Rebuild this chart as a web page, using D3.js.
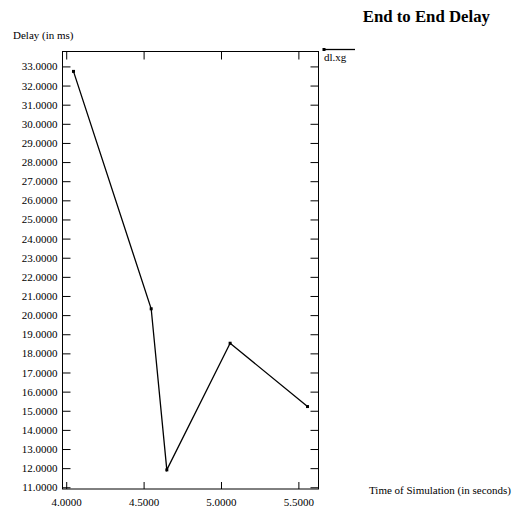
<!DOCTYPE html>
<html>
<head>
<meta charset="utf-8">
<script src="https://cdn.jsdelivr.net/npm/d3@7"></script>
<style>
  body { margin: 0; background: #fff; }
  text { font-family: "Liberation Serif", "DejaVu Serif", serif; fill: #000; }
</style>
</head>
<body>
<div id="chart"></div>
<script>
// ─── Data ───
const times  = [4.047, 4.549, 4.650, 5.059, 5.559];
const delays = [32.74, 20.33, 11.91, 18.53, 15.22];
const xTicks = [4.0, 4.5, 5.0, 5.5];
const yTicks = [11, 12, 13, 14, 15, 16, 17, 18, 19, 20, 21, 22, 23, 24, 25, 26, 27, 28, 29, 30, 31, 32, 33];
const seriesName = "dl.xg";

const width = 517, height = 510;
const plotL = 62.5, plotR = 318.5, plotT = 51.5, plotB = 489;

const svg = d3.select("#chart").append("svg")
  .attr("width", width).attr("height", height);

svg.append("rect").attr("width", width).attr("height", height).attr("fill", "#fff");

const x = d3.scaleLinear().domain([3.976, 5.630]).range([plotL, plotR]);
const y = d3.scaleLinear().domain([10.91, 33.78]).range([plotB, plotT]);
const fmt = d3.format(".4f");

// ─── Axes (ticks point inward) ───
function styleAxis(g) {
  g.select(".domain").remove();
  g.selectAll("line").attr("stroke", "#000").attr("stroke-width", 1);
  g.selectAll("text").attr("font-family", "Liberation Serif, serif").attr("font-size", 11);
}

svg.append("g").attr("transform", `translate(${plotL},0)`)
  .call(d3.axisLeft(y).tickValues(yTicks).tickSize(-8).tickPadding(5).tickFormat(fmt))
  .call(styleAxis);

svg.append("g").attr("transform", `translate(${plotR},0)`)
  .call(d3.axisRight(y).tickValues(yTicks).tickSize(-8).tickFormat(""))
  .call(styleAxis);

svg.append("g").attr("transform", `translate(0,${plotB})`)
  .call(d3.axisBottom(x).tickValues(xTicks).tickSize(-7).tickPadding(9).tickFormat(fmt))
  .call(styleAxis);

svg.append("g").attr("transform", `translate(0,${plotT})`)
  .call(d3.axisTop(x).tickValues(xTicks).tickSize(-8).tickFormat(""))
  .call(styleAxis);

// frame
svg.append("rect")
  .attr("x", plotL).attr("y", plotT)
  .attr("width", plotR - plotL).attr("height", plotB - plotT)
  .attr("fill", "none").attr("stroke", "#000").attr("stroke-width", 1);

// ─── Series ───
const pts = times.map((t, i) => ({ t, v: delays[i] }));

svg.append("path")
  .datum(pts)
  .attr("fill", "none")
  .attr("stroke", "#000")
  .attr("stroke-width", 1.3)
  .attr("d", d3.line().x(d => x(d.t)).y(d => y(d.v)));

svg.selectAll(".pt")
  .data(pts).enter().append("rect")
    .attr("class", "pt")
    .attr("x", d => x(d.t) - 1.5)
    .attr("y", d => y(d.v) - 1.5)
    .attr("width", 3).attr("height", 3)
    .attr("fill", "#000");

// ─── Legend ───
svg.append("line")
  .attr("x1", 323).attr("x2", 355).attr("y1", 49.5).attr("y2", 49.5)
  .attr("stroke", "#000").attr("stroke-width", 1.3);
svg.append("rect")
  .attr("x", 322.5).attr("y", 48).attr("width", 3).attr("height", 3).attr("fill", "#000");
svg.append("text")
  .attr("x", 324).attr("y", 60.5)
  .attr("font-size", 11)
  .text(seriesName);

// ─── Titles ───
svg.append("text")
  .attr("x", 490).attr("y", 22)
  .attr("text-anchor", "end")
  .attr("font-size", 16.8).attr("font-weight", "bold")
  .text("End to End Delay");

svg.append("text")
  .attr("x", 13).attr("y", 38.5)
  .attr("font-size", 11)
  .text("Delay (in ms)");

svg.append("text")
  .attr("x", 511).attr("y", 494)
  .attr("text-anchor", "end")
  .attr("font-size", 11)
  .text("Time of Simulation (in seconds)");
</script>
</body>
</html>
